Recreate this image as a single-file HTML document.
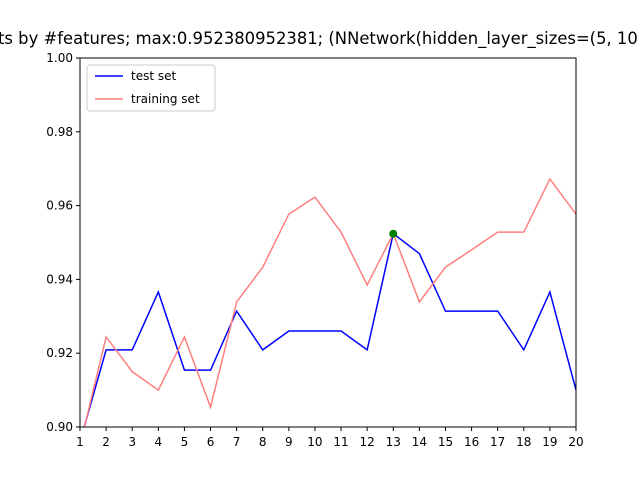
<!DOCTYPE html>
<html><head><meta charset="utf-8"><style>body{margin:0;background:#fff}svg{display:block;font-family:"DejaVu Sans","Liberation Sans",sans-serif}</style></head>
<body>
<svg id="chart" width="640" height="480">
<text x="-2" y="44" font-size="16.4">ts by #features; max:0.952380952381; (NNetwork(hidden_layer_sizes=(5, 10</text>
<defs><clipPath id="plot"><rect x="80" y="58" width="496" height="369"/></clipPath></defs>
<g id="grid"></g>
<g id="series" clip-path="url(#plot)"></g>
<rect x="80" y="58" width="496" height="369" fill="none" stroke="#000" stroke-width="1"/>
<g id="legend">
<rect x="87" y="65" width="128" height="46" rx="3" fill="#fff" stroke="#ccc"/>
<line x1="95" y1="76" x2="123" y2="76" stroke="#0000ff" stroke-width="1.5"/>
<text x="131" y="80" font-size="12">test set</text>
<line x1="95" y1="99" x2="123" y2="99" stroke="#ff7f7f" stroke-width="1.5"/>
<text x="131" y="103" font-size="12">training set</text>
</g>
</svg>
<script>
const features=[1,2,3,4,5,6,7,8,9,10,11,12,13,14,15,16,17,18,19,20];
const testSet=[0.896,0.9209,0.9209,0.9366,0.9154,0.9154,0.9314,0.9209,0.926,0.926,0.926,0.9209,0.9524,0.947,0.9314,0.9314,0.9314,0.9209,0.9366,0.910];
const trainingSet=[0.895,0.9244,0.915,0.910,0.9244,0.9054,0.9339,0.9433,0.9577,0.9623,0.9528,0.9385,0.9524,0.9339,0.9433,0.948,0.9528,0.9528,0.9672,0.9577];
const yTicks=[0.90,0.92,0.94,0.96,0.98,1.00];
const maxPoint=[13,0.952380952381];
const NS="http://www.w3.org/2000/svg";
const X=v=>80+(v-1)*(496/19);
const Y=v=>427-(v-0.90)/0.10*369;
const g=document.getElementById('grid'),s=document.getElementById('series');
function mk(tag,attrs,parent){const e=document.createElementNS(NS,tag);for(const k in attrs)e.setAttribute(k,attrs[k]);parent.appendChild(e);return e;}
features.forEach(f=>{
  const t=mk('line',{x1:X(f),x2:X(f),y1:427,y2:431,stroke:'#000'},g);
  
  
  const l=mk('text',{x:X(f),y:446,'font-size':12,'text-anchor':'middle'},g);l.textContent=f;
  
  
});
yTicks.forEach(v=>{
  const t=mk('line',{x1:76,x2:80,y1:Y(v),y2:Y(v),stroke:'#000'},g);
  
  
  const l=mk('text',{x:73,y:Y(v)+4,'font-size':12,'text-anchor':'end'},g);l.textContent=v.toFixed(2);
  
  
});
const pts=a=>a.map((v,i)=>X(features[i])+','+Y(v)).join(' ');
const p1=mk('polyline',{points:pts(testSet),fill:'none',stroke:'#0000ff','stroke-width':1.5},s);


const p2=mk('polyline',{points:pts(trainingSet),fill:'none',stroke:'#ff7f7f','stroke-width':1.5},s);


const m=mk('circle',{cx:X(maxPoint[0]),cy:Y(maxPoint[1]),r:4,fill:'green'},s);


</script>
</body></html>
